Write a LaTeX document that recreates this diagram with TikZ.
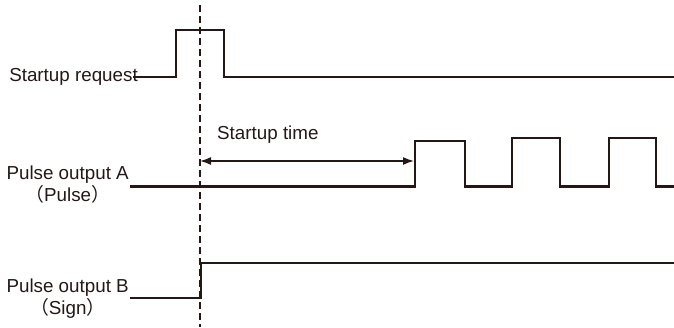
\documentclass[tikz,border=0pt]{standalone}
\usepackage{fontspec}
\setmainfont{Liberation Sans}
\newfontfamily\cjk{Noto Sans CJK JP}
\usetikzlibrary{positioning, calc, arrows.meta}
\definecolor{Ink}{HTML}{231815}
\tikzset{
    lbl/.style={inner sep=0pt, text=Ink, font=\fontsize{18.8}{22}\selectfont},
    wave/.style={line width=2.2pt, color=Ink, line join=miter},
    marker/.style={line width=1.5pt, color=Ink, dash pattern=on 7pt off 4pt},
    span/.style={arrows={Latex[length=11pt, width=8pt]-Latex[length=11pt, width=8pt]}, line width=1.5pt, color=Ink},
}

\begin{document}
\begin{tikzpicture}[x=1pt, y=-1pt]
    \useasboundingbox (0,0) rectangle (674,327);

    % Etichette segnali
    \node[lbl, anchor=base east] (req) at (138,81.5) {Startup request};
    \node[lbl, anchor=base east] (pa) at (129,179) {Pulse output A};
    \node[lbl, anchor=base] (pasub) at ([yshift=-22pt]pa.base) {{\cjk （}Pulse{\cjk ）}};
    \node[lbl, anchor=base east] (pb) at (129,292) {Pulse output B};
    \node[lbl, anchor=base] (pbsub) at ([yshift=-22pt]pb.base) {{\cjk （}Sign{\cjk ）}};

    % Istante di avvio (linea tratteggiata)
    \coordinate (t0top) at (200,5);
    \coordinate (t0bot) at (200,327);
    \draw[marker] (t0top) -- (t0bot);

    % Startup request
    \draw[wave] (133,77) -- (176,77) -- (176,30) -- (224,30) -- (224,77) -- (674,77);

    % Pulse output A (Pulse)
    \draw[wave] (130,186.5) -- (415,186.5) -- (415,141) -- (465,141) -- (465,186.5)
        -- (512,186.5) -- (512,138) -- (560,138) -- (560,186.5)
        -- (609,186.5) -- (609,138) -- (656,138) -- (656,186.5) -- (674,186.5);

    % Pulse output B (Sign)
    \draw[wave] (130,298) -- (201,298) -- (201,263) -- (674,263);

    % Tempo di avvio
    \coordinate (tsL) at (200,161);
    \coordinate (tsR) at (414,161);
    \draw[span] (tsL) -- (tsR);
    \node[lbl, anchor=base west] (tstime) at (217,139) {Startup time};
\end{tikzpicture}
\end{document}
